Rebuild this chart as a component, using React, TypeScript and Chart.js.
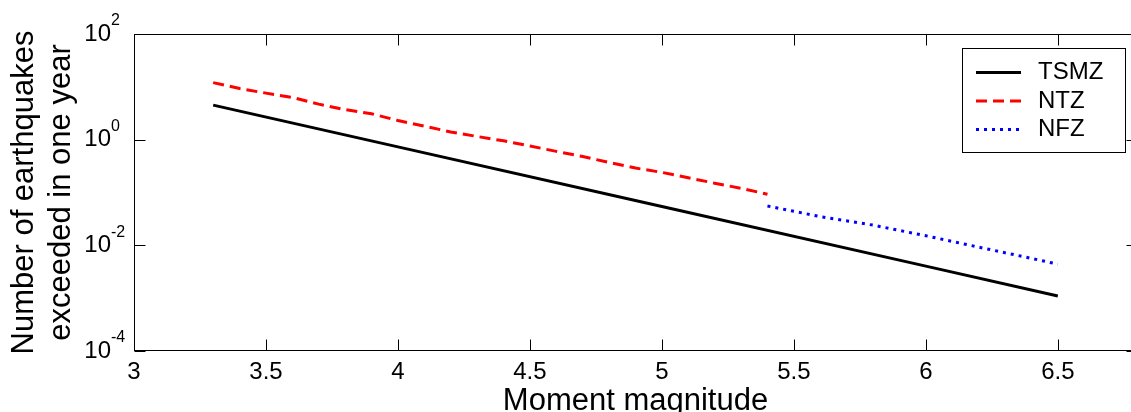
import React, { useEffect, useRef } from 'react';
import { Chart, registerables } from 'chart.js';

Chart.register(...registerables);

// ---- data ----
const tsmzMag = [3.3, 4.0, 5.0, 6.0, 6.5];
const tsmzRate = [4.5, 0.73, 0.0545, 0.00404, 0.0011];

const ntzMag = [3.3, 3.4, 3.5, 3.6, 3.7, 3.8, 3.9, 4.0, 4.1, 4.2, 4.3, 4.4, 4.5, 4.6, 4.7, 4.8, 4.9, 5.0, 5.1, 5.2, 5.3, 5.4];
const ntzRate = [12.0, 9.3, 7.6, 6.3, 4.7, 3.7, 3.1, 2.3, 1.8, 1.4, 1.15, 0.95, 0.76, 0.6, 0.48, 0.37, 0.29, 0.24, 0.19, 0.15, 0.12, 0.093];

const nfzMag = [5.4, 5.6, 5.8, 6.0, 6.2, 6.4, 6.5];
const nfzRate = [0.0555, 0.035, 0.0241, 0.0152, 0.00925, 0.00567, 0.0044];

const seriesLabels = ['TSMZ', 'NTZ', 'NFZ'];
const xTicks = [3, 3.5, 4, 4.5, 5, 5.5, 6, 6.5];
const yTicks = [1e-4, 1e-2, 1, 100];
const yTickExponents = ['-4', '-2', '0', '2'];
const xTitle = 'Moment magnitude';
const yTitle = ['Number of earthquakes', 'exceeded in one year'];

const FONT = '"Liberation Sans", Arial, Helvetica, sans-serif';

const toPoints = (xs: number[], ys: number[]) => xs.map((x, i) => ({ x, y: ys[i] }));

const framePlugin = {
  id: 'matlabFrame',
  afterDraw(chart: any) {
    const { ctx, chartArea: a, scales } = chart;
    const xs = scales.x;
    const ys = scales.y;
    ctx.save();
    ctx.strokeStyle = '#000';
    ctx.lineWidth = 1;
    const L = Math.round(a.left) + 0.5;
    const R = Math.round(a.right) + 0.5;
    const T = Math.round(a.top) + 0.5;
    const B = Math.round(a.bottom) - 0.5;
    ctx.strokeRect(L, T, R - L, B - T);
    const tl = 11;
    ctx.beginPath();
    xs.ticks.forEach((t: any) => {
      const px = Math.round(xs.getPixelForValue(t.value)) + 0.5;
      ctx.moveTo(px, B);
      ctx.lineTo(px, B - tl);
      ctx.moveTo(px, T);
      ctx.lineTo(px, T + tl);
    });
    ys.ticks.forEach((t: any) => {
      const py = Math.round(ys.getPixelForValue(t.value)) + 0.5;
      ctx.moveTo(L, py);
      ctx.lineTo(L + tl, py);
      ctx.moveTo(R, py);
      ctx.lineTo(R - tl, py);
    });
    ctx.stroke();

    // y tick labels: 10 with superscript exponent
    ctx.fillStyle = '#000';
    ctx.textBaseline = 'middle';
    ys.ticks.forEach((t: any, i: number) => {
      const py = ys.getPixelForValue(t.value);
      const idx = yTicks.indexOf(t.value);
      const exp = yTickExponents[idx >= 0 ? idx : i];
      ctx.font = `24px ${FONT}`;
      ctx.textAlign = 'right';
      ctx.fillText('10', 111, py);
      ctx.font = `16px ${FONT}`;
      ctx.textAlign = 'left';
      ctx.fillText(exp, 111, py - 13);
    });

    // legend
    const bx = 962.5, by = 48.5, bw = 163, bh = 104;
    ctx.fillStyle = '#fff';
    ctx.fillRect(bx, by, bw, bh);
    ctx.strokeStyle = '#000';
    ctx.lineWidth = 1;
    ctx.setLineDash([]);
    ctx.strokeRect(bx, by, bw, bh);
    const rows = [72.5, 101, 129.5];
    chart.data.datasets.forEach((ds: any, i: number) => {
      const y = rows[i];
      ctx.save();
      ctx.strokeStyle = ds.borderColor;
      ctx.lineWidth = ds.borderWidth;
      ctx.lineCap = 'butt';
      ctx.setLineDash(ds.borderDash || []);
      ctx.beginPath();
      ctx.moveTo(976, y);
      ctx.lineTo(1021, y);
      ctx.stroke();
      ctx.restore();
      ctx.fillStyle = '#000';
      ctx.font = `24px ${FONT}`;
      ctx.textAlign = 'left';
      ctx.textBaseline = 'middle';
      ctx.fillText(ds.label, 1038, y);
    });
    ctx.restore();
  },
};

export default function App() {
  const canvasRef = useRef<HTMLCanvasElement | null>(null);

  useEffect(() => {
    const canvas = canvasRef.current;
    if (!canvas) return;
    const chart = new Chart(canvas, {
      type: 'line',
      data: {
        datasets: [
          {
            label: seriesLabels[0],
            data: toPoints(tsmzMag, tsmzRate),
            borderColor: '#000000',
            borderWidth: 3,
            pointRadius: 0,
            fill: false,
          },
          {
            label: seriesLabels[1],
            data: toPoints(ntzMag, ntzRate),
            borderColor: '#ff0000',
            borderWidth: 3,
            borderDash: [11, 6],
            pointRadius: 0,
            fill: false,
          },
          {
            label: seriesLabels[2],
            data: toPoints(nfzMag, nfzRate),
            borderColor: '#0000ff',
            borderWidth: 3,
            borderDash: [3, 5],
            pointRadius: 0,
            fill: false,
          },
        ],
      },
      options: {
        responsive: false,
        animation: false,
        devicePixelRatio: 1,
        layout: { padding: { left: 0, top: 34, right: 3, bottom: 0 } },
        plugins: {
          legend: { display: false },
          tooltip: { enabled: false },
        },
        elements: { line: { tension: 0, borderCapStyle: 'butt' } },
        scales: {
          x: {
            type: 'linear',
            min: 3,
            max: 6.8,
            grid: { display: false, drawTicks: false },
            border: { display: false },
            afterBuildTicks: (scale: any) => {
              scale.ticks = xTicks.map((v) => ({ value: v }));
            },
            afterFit: (scale: any) => {
              scale.height = 61;
            },
            ticks: {
              color: '#000',
              padding: 7,
              maxRotation: 0,
              autoSkip: false,
              font: { family: FONT, size: 24 },
              callback: (v: any) => String(v),
            },
            title: {
              display: true,
              text: xTitle,
              color: '#000',
              font: { family: FONT, size: 31, lineHeight: 1.0 },
              padding: { top: 0, bottom: -5 },
            },
          },
          y: {
            type: 'logarithmic',
            min: 1e-4,
            max: 100,
            grid: { display: false, drawTicks: false },
            border: { display: false },
            afterBuildTicks: (scale: any) => {
              scale.ticks = yTicks.map((v) => ({ value: v }));
            },
            afterFit: (scale: any) => {
              scale.width = 134;
            },
            ticks: { display: false },
            title: {
              display: true,
              text: yTitle,
              color: '#000',
              font: { family: FONT, size: 31, lineHeight: 1.2 },
              padding: { top: 5.5, bottom: 0 },
            },
          },
        },
      },
      plugins: [framePlugin],
    } as any);
    return () => chart.destroy();
  }, []);

  return (
    <div
      style={{
        position: 'fixed',
        left: 0,
        top: 0,
        width: 1131,
        height: 412,
        overflow: 'hidden',
        background: '#fff',
      }}
    >
      <canvas ref={canvasRef} width={1140} height={412} style={{ width: 1140, height: 412, display: 'block' }} />
    </div>
  );
}
